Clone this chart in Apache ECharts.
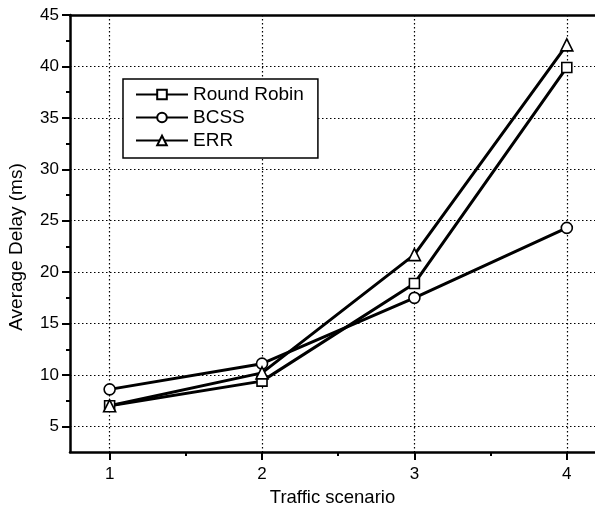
<!DOCTYPE html>
<html>
<head>
<meta charset="utf-8">
<title>Average Delay</title>
<script src="https://cdn.jsdelivr.net/npm/echarts@6/dist/echarts.min.js"></script>
</head>
<body style="margin:0;background:#fff">
<div id="chart" style="width:595px;height:512px"></div>
<script type="text/javascript">
// data
var scenarios = [1, 2, 3, 4];
var roundRobin = [7.0, 9.4, 18.9, 39.9];
var bcss = [8.6, 11.1, 17.5, 24.3];
var err = [7.0, 10.2, 21.7, 42.1];
var yTicks = [5, 10, 15, 20, 25, 30, 35, 40, 45];
var yMinor = [7.5, 12.5, 17.5, 22.5, 27.5, 32.5, 37.5, 42.5];
var xMinor = [1.5, 2.5, 3.5];

var font = 'Liberation Sans, Arial, sans-serif';
// x range: the original plot runs past the right edge of the picture
var xMin = 0.74, xMax = 4.185;

function pairs(vals) {
  var out = [];
  for (var i = 0; i < scenarios.length; i++) out.push([scenarios[i], vals[i]]);
  return out;
}

function line(name, vals, symbol, size) {
  return {
    name: name, type: 'line', data: pairs(vals),
    symbol: symbol, symbolSize: size,
    lineStyle: { color: '#000', width: 3 },
    itemStyle: { color: '#fff', borderColor: '#000', borderWidth: 1.6 },
    emphasis: { disabled: true }, animation: false
  };
}

var dotted = { color: '#000', width: 1.2, type: [1.5, 2.5] };

var myChart = echarts.init(document.getElementById('chart'));
myChart.setOption({
  backgroundColor: '#fff',
  animation: false,
  grid: { left: 70, top: 15, right: 0, bottom: 59 },
  legend: {
    orient: 'vertical', left: 123, top: 79,
    padding: [6, 14, 8, 12], itemGap: 4,
    itemWidth: 52, itemHeight: 12,
    backgroundColor: '#fff', borderColor: '#000', borderWidth: 1.5, borderRadius: 0,
    textStyle: { fontFamily: font, fontSize: 19, color: '#000' },
    data: ['Round Robin', 'BCSS', 'ERR']
  },
  xAxis: [
    {
      type: 'value', min: xMin, max: xMax, position: 'bottom',
      name: 'Traffic scenario', nameLocation: 'middle', nameGap: 33,
      nameTextStyle: { fontFamily: font, fontSize: 18.5, color: '#000', padding: [0, 0, 0, 0] },
      axisLine: { lineStyle: { color: '#000', width: 2.5 } },
      axisTick: { customValues: scenarios, length: 8, lineStyle: { color: '#000', width: 2 } },
      axisLabel: { customValues: scenarios, margin: 14, fontFamily: font, fontSize: 17, color: '#000' },
      splitLine: { show: true, lineStyle: dotted }
    },
    {
      type: 'value', min: xMin, max: xMax, position: 'bottom',
      axisLine: { show: false },
      axisTick: { customValues: xMinor, length: 4, lineStyle: { color: '#000', width: 2 } },
      axisLabel: { show: false }, splitLine: { show: false }
    },
    {
      type: 'value', min: xMin, max: xMax, position: 'top',
      axisLine: { lineStyle: { color: '#000', width: 2.5 } },
      axisTick: { show: false }, axisLabel: { show: false }, splitLine: { show: false }
    }
  ],
  yAxis: [
    {
      type: 'value', min: 2.5, max: 45, position: 'left',
      axisLine: { show: true, lineStyle: { color: '#000', width: 2.5 } },
      axisTick: { show: true, customValues: yTicks, length: 8, lineStyle: { color: '#000', width: 2 } },
      axisLabel: { customValues: yTicks, margin: 11, fontFamily: font, fontSize: 17, color: '#000' },
      splitLine: { show: true, lineStyle: dotted }
    },
    {
      type: 'value', min: 2.5, max: 45, position: 'left',
      axisLine: { show: false },
      axisTick: { show: true, customValues: yMinor, length: 4, lineStyle: { color: '#000', width: 2 } },
      axisLabel: { show: false }, splitLine: { show: false }
    }
  ],
  graphic: [{
    type: 'text', x: 17, y: 247, rotation: Math.PI / 2,
    style: {
      text: 'Average Delay (ms)', font: '19px ' + font, fill: '#000',
      align: 'center', verticalAlign: 'middle'
    }
  }],
  series: [
    line('Round Robin', roundRobin, 'rect', 10),
    line('BCSS', bcss, 'circle', 11),
    line('ERR', err, 'triangle', 12)
  ]
});
</script>
</body>
</html>
